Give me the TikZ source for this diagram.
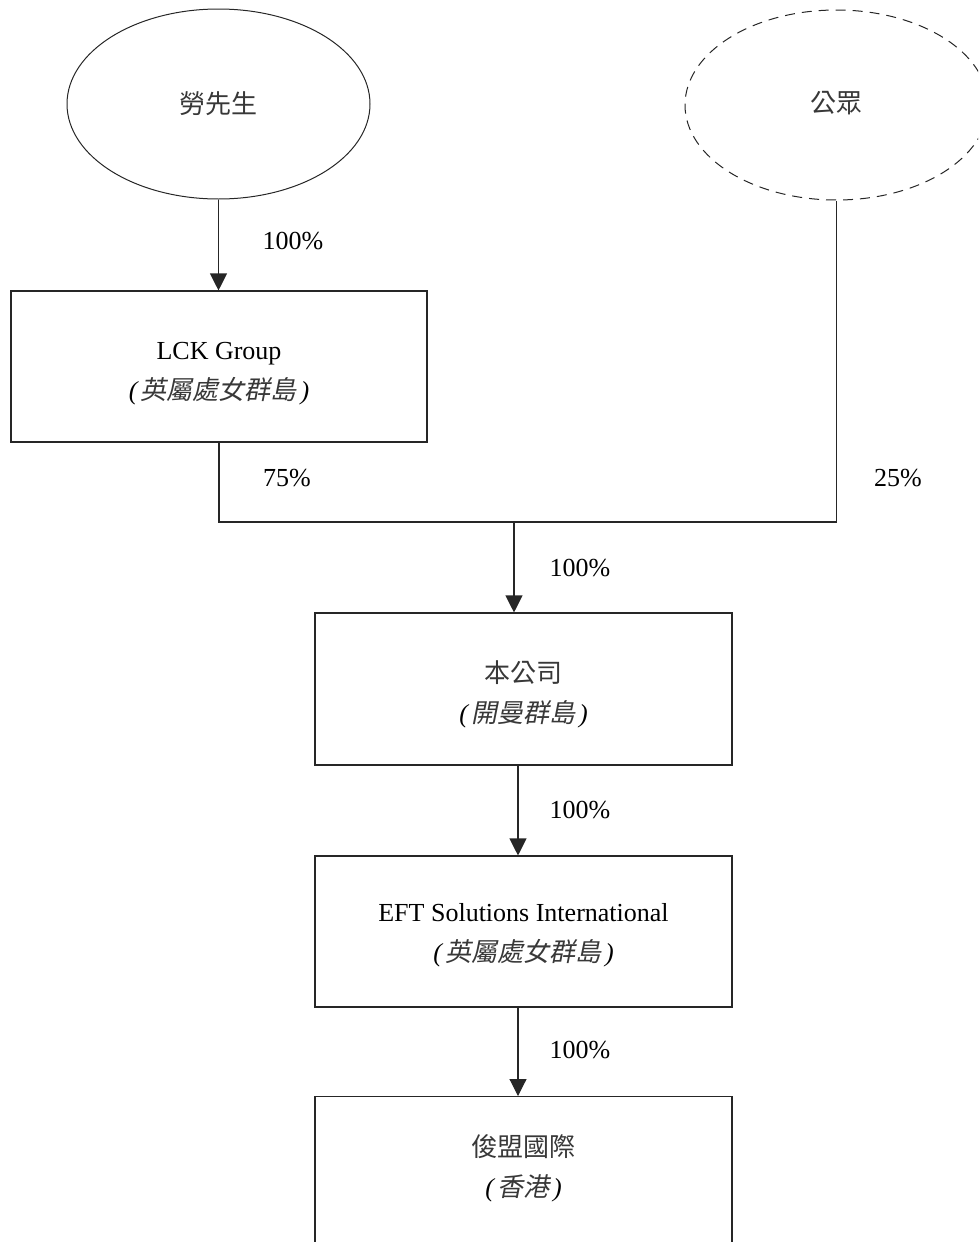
\documentclass[tikz,border=0pt]{standalone}
\usepackage{fontspec}
\setmainfont{Liberation Serif}
\newfontfamily\cjk{Noto Sans CJK TC}
\newfontfamily\cjkit[FakeSlant=0.2]{Noto Sans CJK TC}
\usetikzlibrary{arrows.meta,shapes.geometric}
\newcommand{\itp}[1]{{\itshape(}\kern3pt{\cjkit\color{black!78}#1}\kern4pt{\itshape)}}
\newcommand{\cj}[1]{{\cjk\color{black!78}#1}}
\begin{document}
\begin{tikzpicture}[x=1pt,y=-1pt,
  every node/.style={font=\fontsize{26}{40}\selectfont},
  line/.style={line width=1.1pt,draw=black!85},
  arr/.style={line,-{Triangle[width=17pt,length=17pt]}},
  boxnode/.style={draw=black!85,line width=1.1pt,rectangle,inner sep=0pt},
  ell/.style={draw=black!85,line width=1pt,ellipse,inner sep=0pt,minimum width=303pt,minimum height=190pt},
  txt/.style={align=center,inner sep=0pt},
  pct/.style={inner sep=0pt}]
\useasboundingbox (0,0) rectangle (978,1242);
\clip (0,0) rectangle (978,1242);
% owners
\node[ell] (lau) at (218.5,104) {};
\node[txt] (laut) at (218.5,104) {\cj{勞先生}};
\node[ell,dashed,dash pattern=on 10pt off 7pt] (pub) at (836.5,105) {};
\node[txt] (pubt) at (836.5,103) {\cj{公眾}};
% boxes
\node[boxnode,minimum width=416pt,minimum height=151pt] (lck) at (219,366.5) {};
\node[txt] (lckt) at (219,374) {LCK Group\\\itp{英屬處女群島}};
\node[boxnode,minimum width=417pt,minimum height=152pt] (co) at (523.5,689) {};
\node[txt] (cot) at (523.5,694) {\cj{本公司}\\\itp{開曼群島}};
\node[boxnode,minimum width=417pt,minimum height=151pt] (eft) at (523.5,931.5) {};
\node[txt] (eftt) at (523.5,935) {EFT Solutions International\\\itp{英屬處女群島}};
\node[boxnode,minimum width=417pt,minimum height=300pt,anchor=north] (hk) at (523.5,1096) {};
\node[txt] (hkt) at (523.5,1168) {\cj{俊盟國際}\\\itp{香港}};
% connectors
\coordinate (j) at (514,522);
\draw[arr] (lau.south) -- (lau.south |- lck.north);
\draw[line] (lck.south) -- (lck.south |- j) -- (pub.south |- j) -- (pub.south);
\draw[arr] (j) -- (j |- co.north);
\draw[arr] ([xshift=-5.5pt]co.south) -- ([xshift=-5.5pt]eft.north);
\draw[arr] ([xshift=-5.5pt]eft.south) -- ([xshift=-5.5pt]hk.north);
% labels
\node[pct] (l1) at (293,241) {100\%};
\node[pct] (l2) at (287,478) {75\%};
\node[pct] (l3) at (898,478) {25\%};
\node[pct] (l4) at (580,568) {100\%};
\node[pct] (l5) at (580,810) {100\%};
\node[pct] (l6) at (580,1050) {100\%};
\end{tikzpicture}
\end{document}
